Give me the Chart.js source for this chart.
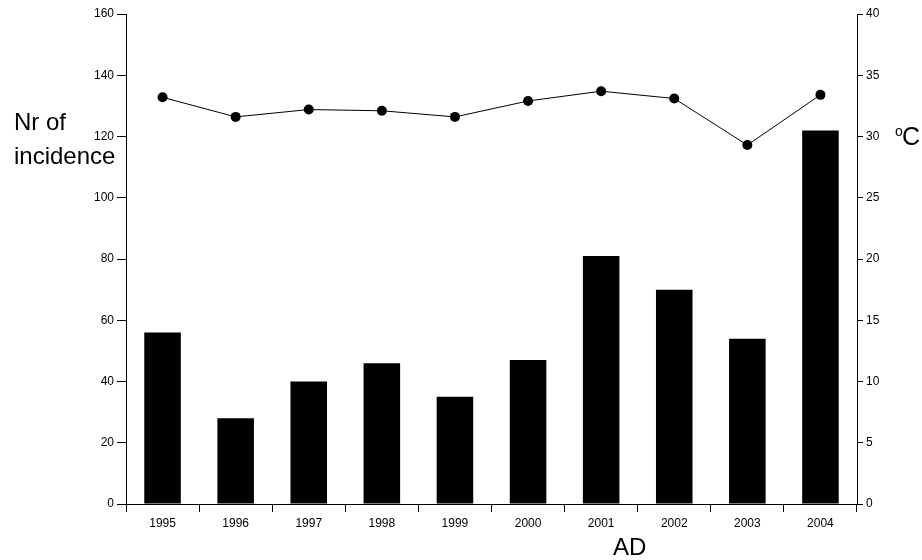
<!DOCTYPE html>
<html>
<head>
<meta charset="utf-8">
<script src="https://cdn.jsdelivr.net/npm/chart.js@4"></script>
<style>
  body { margin: 0; background: #fff; }
  #wrap { width: 922px; height: 560px; }
</style>
</head>
<body>
<div id="wrap"><canvas id="myChart" width="922" height="560"></canvas></div>
<script>
const years = ['1995', '1996', '1997', '1998', '1999', '2000', '2001', '2002', '2003', '2004'];
const incidence = [56, 28, 40, 46, 35, 47, 81, 70, 54, 122];
const temperature = [33.2, 31.6, 32.2, 32.1, 31.6, 32.9, 33.7, 33.1, 29.3, 33.4];

const tickFont = { family: 'Liberation Sans', size: 12 };

// Подписи осей рисуем сами, чтобы поставить их как на оригинале
const titlesPlugin = {
    id: 'titles',
    afterDraw(chart) {
        const ctx = chart.ctx;
        ctx.save();
        ctx.fillStyle = '#000';
        ctx.textAlign = 'left';
        ctx.textBaseline = 'alphabetic';
        ctx.font = '24px "Liberation Sans"';
        ctx.fillText('Nr of', 14, 130);
        ctx.fillText('incidence', 14, 164);
        ctx.fillText('AD', 613, 555);
        ctx.font = '25px "Liberation Sans"';
        ctx.fillText('C', 902, 145);
        ctx.font = '14px "Liberation Sans"';
        ctx.fillText('o', 895, 136);
        ctx.restore();
    }
};

const chart = new Chart(document.getElementById('myChart'), {
    type: 'bar',
    data: {
        labels: years,
        datasets: [{
            type: 'line',
            data: temperature,
            yAxisID: 'yRight',
            borderColor: '#000',
            borderWidth: 1,
            backgroundColor: '#000',
            pointRadius: 5,
            pointBackgroundColor: '#000',
            pointBorderWidth: 0,
            tension: 0,
            order: 0
        }, {
            type: 'bar',
            data: incidence,
            yAxisID: 'y',
            backgroundColor: '#000',
            barPercentage: 0.5,
            categoryPercentage: 1.0,
            order: 1
        }]
    },
    options: {
        responsive: false,
        animation: false,
        layout: { padding: { top: 14, left: 0, right: 0, bottom: 0 } },
        plugins: {
            legend: { display: false },
            tooltip: { enabled: false }
        },
        scales: {
            x: {
                offset: true,
                border: { color: '#000', width: 1 },
                grid: { display: true, drawOnChartArea: false, offset: true, tickLength: 8, tickColor: '#000' },
                ticks: { color: '#000', font: tickFont, padding: 4, maxRotation: 0 },
                afterFit: (scale) => { scale.height = 56; }
            },
            y: {
                position: 'left',
                min: 0,
                max: 160,
                border: { color: '#000', width: 1 },
                grid: { drawOnChartArea: false, tickLength: 9, tickColor: '#000' },
                ticks: { stepSize: 20, color: '#000', font: tickFont, padding: 3 },
                afterFit: (scale) => { scale.width = 126; }
            },
            yRight: {
                position: 'right',
                min: 0,
                max: 40,
                border: { color: '#000', width: 1 },
                grid: { drawOnChartArea: false, tickLength: 6, tickColor: '#000' },
                ticks: { stepSize: 5, color: '#000', font: tickFont, padding: 3 },
                afterFit: (scale) => { scale.width = 65; }
            }
        }
    },
    plugins: [titlesPlugin]
});
</script>
</body>
</html>
